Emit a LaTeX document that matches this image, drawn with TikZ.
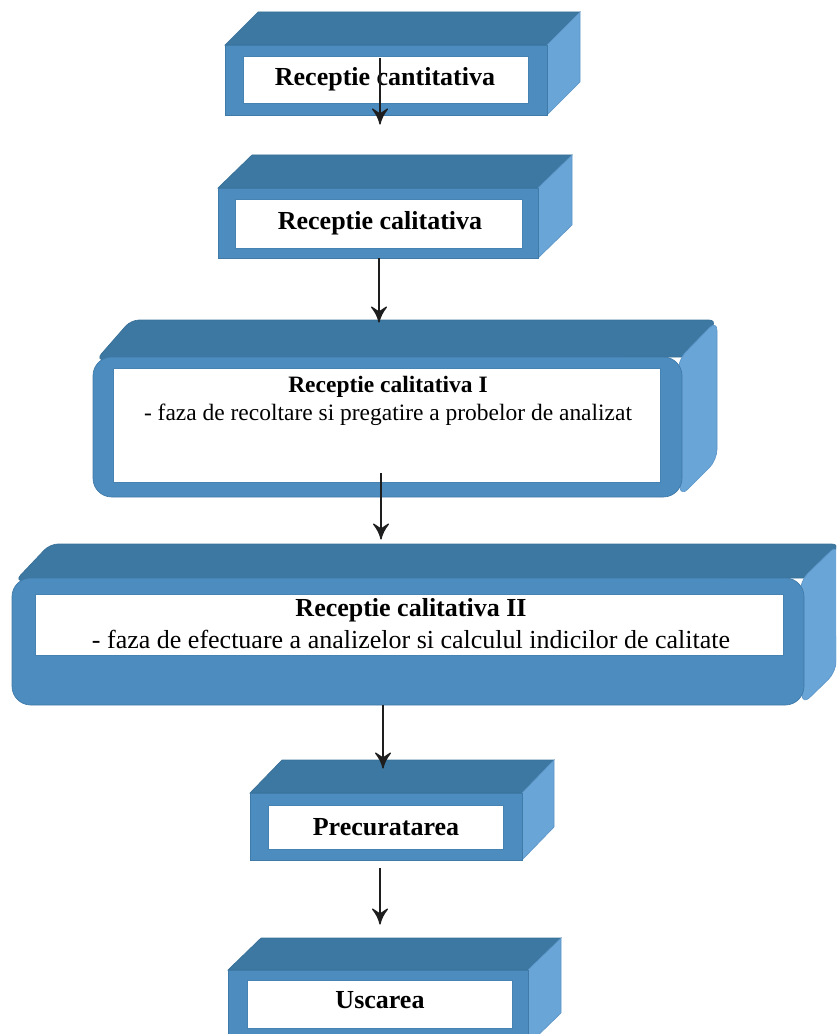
\documentclass[tikz,border=0pt]{standalone}
\usepackage{fontspec}
\setmainfont{Liberation Serif}
\begin{document}
\begin{tikzpicture}[x=0.75pt,y=0.75pt,yscale=-1,xscale=1,
    boxfront/.style={fill={rgb, 255:red, 76; green, 140; blue, 190}, draw={rgb, 255:red, 64; green, 122; blue, 168}, line width=0.5},
    boxtop/.style={fill={rgb, 255:red, 60; green, 120; blue, 162}, draw={rgb, 255:red, 56; green, 112; blue, 152}, line width=0.5},
    boxside/.style={fill={rgb, 255:red, 106; green, 165; blue, 215}, draw={rgb, 255:red, 92; green, 150; blue, 200}, line width=0.5},
    panel/.style={fill=white, draw={rgb, 255:red, 70; green, 130; blue, 178}, line width=0.5},
    biglabel/.style={font=\fontsize{19.5}{23}\selectfont\bfseries, inner sep=0.75pt},
    arrowline/.style={color={rgb, 255:red, 30; green, 30; blue, 30}, line width=1.2}]
\useasboundingbox (0,0) rectangle (836,1034);
\clip (0,0) rectangle (836,1034);
%box 1
\draw [boxtop]   (225,45) -- (258,12) -- (580,12) -- (547,45) -- cycle ;
\draw [boxside]  (547,45) -- (580,12) -- (580,82) -- (547,115) -- cycle ;
\draw [boxfront] (225,45) rectangle (547,115) ;
\draw [panel]    (243,56) rectangle (528,103) ;
\draw (385,79) node [biglabel] (cant) {Receptie cantitativa};
%box 2
\draw [boxtop]   (218,188) -- (252,155) -- (572,155) -- (538,188) -- cycle ;
\draw [boxside]  (538,188) -- (572,155) -- (572,225) -- (538,258) -- cycle ;
\draw [boxfront] (218,188) rectangle (538,258) ;
\draw [panel]    (235,199) rectangle (522,248) ;
\draw (380,223) node [biglabel] (calit) {Receptie calitativa};
%box 3
\draw [boxtop, rounded corners=6]  (96,360) -- (131,320) -- (717,320) -- (690,357) -- cycle ;
\draw [boxside, rounded corners=8] (678,360) -- (717,320) -- (717,460) -- (680,497) -- cycle ;
\draw [boxfront, rounded corners=14] (93,357) rectangle (682,497) ;
\draw [panel]    (113,368) rectangle (660,482) ;
\draw (388,401) node [inner sep=0.75pt, align=center, font=\fontsize{17.6}{21.5}\selectfont] (calitI) {\textbf{Receptie calitativa I}\\- faza de recoltare si pregatire a probelor de analizat};
%box 4
\draw [boxtop, rounded corners=6]  (15,581) -- (50,544) -- (840,544) -- (812,578) -- cycle ;
\draw [boxside, rounded corners=8] (800,581) -- (838,544) -- (836,672) -- (802,705) -- cycle ;
\draw [boxfront, rounded corners=14] (12,578) rectangle (804,705) ;
\draw [panel]    (35,594) rectangle (783,655) ;
\draw (411,624) node [inner sep=0.75pt, align=center, font=\fontsize{19.5}{24}\selectfont] (calitII) {\textbf{Receptie calitativa II}\\- faza de efectuare a analizelor si calculul indicilor de calitate};
%box 5
\draw [boxtop]   (250,793) -- (282,760) -- (554,760) -- (522,793) -- cycle ;
\draw [boxside]  (522,793) -- (554,760) -- (554,827) -- (522,860) -- cycle ;
\draw [boxfront] (250,793) rectangle (522,860) ;
\draw [panel]    (268,805) rectangle (503,849) ;
\draw (386,827) node [biglabel] (precur) {Precuratarea};
%box 6
\draw [boxtop]   (228,970) -- (261,938) -- (561,938) -- (528,970) -- cycle ;
\draw [boxside]  (528,970) -- (561,938) -- (561,1013) -- (528,1045) -- cycle ;
\draw [boxfront] (228,970) rectangle (528,1045) ;
\draw [panel]    (247,980) rectangle (512,1028) ;
\draw (380,1000) node [biglabel] (uscare) {Uscarea};
%arrows
\coordinate (a1) at (380,58);  \coordinate (b1) at (380,124);
\coordinate (a2) at (379,258); \coordinate (b2) at (379,322);
\coordinate (a3) at (381,473); \coordinate (b3) at (381,539);
\coordinate (a4) at (383,705); \coordinate (b4) at (383,768);
\coordinate (a5) at (380,868); \coordinate (b5) at (380,924);
\foreach \i in {1,...,5}{
  \draw [arrowline] (a\i) -- ([yshift=-3]b\i) ;
  \draw [arrowline, fill={rgb, 255:red, 30; green, 30; blue, 30}, line width=0.9, line join=round, shift={(b\i)}, rotate = 270] (15,-7.5) .. controls (10,-3.5) and (5,-1) .. (0,0) .. controls (5,1) and (10,3.5) .. (15,7.5) -- (10,0) -- cycle ;
}
\end{tikzpicture}
\end{document}
